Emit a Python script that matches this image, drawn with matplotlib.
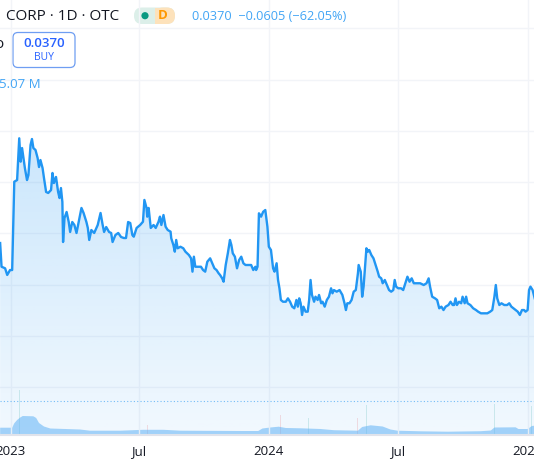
import matplotlib.pyplot as plt
import matplotlib.dates as mdates
import numpy as np
import pandas as pd
from matplotlib.patches import FancyBboxPatch, Circle

# price line, days counted from 2023-01-01
day_offsets = [-15, -13, -8, -5, -1, 2, 5, 9, 12, 14, 16, 18, 20, 23, 25, 28, 30, 32, 35, 38,
               40, 42, 45, 47, 50, 53, 57, 59, 61, 64, 67, 69, 71, 73, 74, 76, 79, 82, 84, 87,
               90, 93, 96, 100, 103, 107, 109, 111, 114, 118, 123, 127, 130, 132, 135, 139, 142, 144, 148, 152,
               156, 160, 163, 166, 169, 172, 174, 178, 183, 187, 189, 192, 193, 195, 198, 202, 205, 209, 211, 213,
               216, 219, 222, 226, 227, 230, 232, 234, 236, 240, 244, 247, 252, 255, 257, 259, 261, 265, 269, 272,
               275, 278, 282, 285, 288, 291, 294, 296, 299, 301, 304, 307, 310, 312, 314, 317, 320, 323, 326, 329,
               332, 336, 340, 343, 346, 347, 349, 351, 354, 357, 360, 363, 365, 368, 371, 373, 376, 378, 380, 382,
               385, 389, 392, 395, 398, 401, 404, 406, 408, 410, 412, 414, 417, 420, 422, 424, 426, 429, 431, 434,
               436, 439, 441, 444, 447, 450, 453, 455, 457, 461, 465, 469, 472, 474, 476, 479, 482, 485, 488, 491,
               492, 495, 497, 499, 501, 503, 505, 507, 510, 513, 516, 519, 521, 524, 526, 529, 532, 535, 538, 541,
               543, 545, 548, 552, 555, 558, 561, 564, 567, 570, 574, 579, 584, 588, 591, 593, 596, 600, 603, 606,
               609, 612, 615, 619, 622, 625, 627, 629, 631, 634, 637, 639, 642, 644, 646, 650, 654, 658, 661, 665,
               669, 674, 678, 681, 684, 686, 688, 691, 694, 698, 702, 705, 708, 711, 714, 717, 720, 723, 726, 728,
               731, 733, 735, 738, 741]
prices = [0.1906, 0.1675, 0.1660, 0.1595, 0.1643, 0.1643, 0.2504, 0.2520, 0.2927, 0.2699,
          0.2832, 0.2735, 0.2637, 0.2520, 0.2569, 0.2862, 0.2920, 0.2832, 0.2813, 0.2735,
          0.2647, 0.2715, 0.2637, 0.2540, 0.2404, 0.2394, 0.2423, 0.2589, 0.2491, 0.2550,
          0.2404, 0.2345, 0.2442, 0.2306, 0.1916, 0.2150, 0.2209, 0.2111, 0.2014, 0.2111,
          0.2082, 0.2004, 0.2111, 0.2248, 0.2199, 0.2111, 0.2053, 0.1936, 0.2033, 0.2004,
          0.2082, 0.2199, 0.2082, 0.2014, 0.2062, 0.2014, 0.2004, 0.1916, 0.1984, 0.2004,
          0.1965, 0.1955, 0.1955, 0.2111, 0.2101, 0.1984, 0.1968, 0.2053, 0.2082, 0.2114,
          0.2326, 0.2248, 0.2163, 0.2248, 0.2053, 0.2082, 0.2053, 0.2114, 0.2163, 0.2082,
          0.2179, 0.2065, 0.2033, 0.2017, 0.1952, 0.1887, 0.1822, 0.1936, 0.1855, 0.1870,
          0.1855, 0.1822, 0.1789, 0.1757, 0.1627, 0.1773, 0.1675, 0.1675, 0.1675, 0.1643,
          0.1627, 0.1724, 0.1757, 0.1709, 0.1660, 0.1643, 0.1611, 0.1595, 0.1562, 0.1529,
          0.1692, 0.1806, 0.1936, 0.1887, 0.1806, 0.1773, 0.1660, 0.1741, 0.1773, 0.1709,
          0.1692, 0.1692, 0.1692, 0.1643, 0.1675, 0.1643, 0.1675, 0.2196, 0.2163, 0.2211,
          0.2228, 0.2065, 0.1870, 0.1838, 0.1660, 0.1627, 0.1709, 0.1546, 0.1465, 0.1351,
          0.1334, 0.1334, 0.1367, 0.1334, 0.1286, 0.1270, 0.1351, 0.1286, 0.1367, 0.1319,
          0.1205, 0.1286, 0.1237, 0.1237, 0.1351, 0.1546, 0.1400, 0.1334, 0.1383, 0.1351,
          0.1400, 0.1319, 0.1334, 0.1286, 0.1351, 0.1383, 0.1465, 0.1416, 0.1448, 0.1432,
          0.1448, 0.1400, 0.1319, 0.1253, 0.1319, 0.1319, 0.1351, 0.1432, 0.1448, 0.1611,
          0.1692, 0.1627, 0.1383, 0.1481, 0.1675, 0.1855, 0.1822, 0.1838, 0.1789, 0.1757,
          0.1692, 0.1627, 0.1578, 0.1562, 0.1514, 0.1546, 0.1497, 0.1448, 0.1432, 0.1448,
          0.1546, 0.1481, 0.1465, 0.1465, 0.1448, 0.1514, 0.1578, 0.1529, 0.1562, 0.1514,
          0.1514, 0.1514, 0.1497, 0.1514, 0.1562, 0.1481, 0.1383, 0.1367, 0.1351, 0.1270,
          0.1286, 0.1253, 0.1286, 0.1302, 0.1334, 0.1302, 0.1302, 0.1367, 0.1302, 0.1334,
          0.1319, 0.1383, 0.1319, 0.1383, 0.1319, 0.1302, 0.1270, 0.1253, 0.1237, 0.1221,
          0.1221, 0.1221, 0.1237, 0.1253, 0.1383, 0.1497, 0.1367, 0.1302, 0.1319, 0.1302,
          0.1302, 0.1319, 0.1286, 0.1270, 0.1253, 0.1237, 0.1205, 0.1253, 0.1253, 0.1237,
          0.1253, 0.1448, 0.1481, 0.1448, 0.1367]

# smoothed volume (millions)
vol_days = [-15, 2, 5, 9, 13, 17, 32, 36, 40, 47, 56, 77, 98, 112, 155, 187, 216, 240, 325, 350,
            356, 367, 379, 389, 410, 438, 457, 491, 497, 509, 526, 537, 547, 580, 618, 665, 679, 684, 714, 718,
            731, 737, 741]
vol_ma = [3.3, 3.3, 5.5, 7.15, 8.3, 9.15, 9.0, 8.15, 5.65, 3.9, 2.9, 2.65, 2.4, 1.8, 1.8, 2.25, 2.25, 1.8, 1.65, 1.65,
          2.9, 3.4, 3.8, 3.15, 3.0, 2.65, 2.05, 1.8, 3.65, 4.5, 3.9, 2.4, 1.8, 1.5, 1.3, 1.55, 1.9, 3.4, 3.5, 2.65,
          2.65, 4.15, 4.3]

# visible daily volume spikes (millions)
spike_days = [3, 12, 193, 354, 381, 421, 490, 503, 684, 736]
spike_vol = [26, 22, 4.6, 9.3, 9.65, 8.15, 8.15, 14.65, 15, 14.3]
spike_up = [False, True, False, True, False, True, False, True, True, True]

last_price = 0.0370
price_grid = [0.05, 0.10, 0.15, 0.20, 0.25, 0.30, 0.35, 0.40]
tick_dates = ['2023-01-01', '2023-07-01', '2024-01-01', '2024-07-01', '2025-01-01']
tick_labels = ['2023', 'Jul', '2024', 'Jul', '2025']

FONT = 'Open Sans'
W, H = 534, 462
BLUE = '#2196f3'

base = pd.Timestamp('2023-01-01')
dates = base + pd.to_timedelta(day_offsets, unit='D')
vdates = base + pd.to_timedelta(vol_days, unit='D')
sdates = base + pd.to_timedelta(spike_days, unit='D')

fig = plt.figure(figsize=(W / 100, H / 100), dpi=100)
ax = fig.add_axes([0, 27 / H, 1, 435 / H])
ax.set_zorder(2)
ax.patch.set_visible(False)
axv = ax.twinx()
axv.set_zorder(1)

x0 = base - pd.Timedelta(days=15.2)
x1 = base + pd.Timedelta(days=740)

# grid
for g in price_grid:
    ax.axhline(g, color='#f2f4f8', lw=1, zorder=0)
for t in tick_dates:
    ax.axvline(pd.Timestamp(t), color='#f2f4f8', lw=1, zorder=0)

# gradient area under the price
poly = ax.fill_between(dates, prices, 0, color='none', lw=0)
grad = np.linspace(0.06, 0.24, 256).reshape(-1, 1)
rgba = np.zeros((256, 1, 4))
rgba[..., 0], rgba[..., 1], rgba[..., 2] = 33 / 255, 150 / 255, 243 / 255
rgba[..., 3] = grad
im = ax.imshow(rgba, extent=[mdates.date2num(x0), mdates.date2num(x1), 0, 0.30],
               origin='lower', aspect='auto', zorder=1)
im.set_clip_path(poly.get_paths()[0], transform=ax.transData)
ax.set_xlim(x0, x1)
ax.set_ylim(0.0035, 0.4275)
axv.set_ylim(-0.35, 217.15)

ax.plot(dates, prices, color=BLUE, lw=1.7, solid_joinstyle='round', zorder=3)
ax.axhline(last_price, color=BLUE, lw=0.8, ls=(0, (1, 2)), alpha=0.6, zorder=2)

# volume
axv.bar(sdates, spike_vol, width=1.0,
        color=['#26a69a' if u else '#ef5350' for u in spike_up], alpha=0.18, lw=0)
axv.fill_between(vdates, vol_ma, 0, color='#64b5f6', alpha=0.55, lw=0)
axv.set_yticks([])

ax.set_xticks([pd.Timestamp(t) for t in tick_dates])
ax.set_xticklabels(tick_labels, fontsize=9.5, color='#131722', family=FONT)
ax.tick_params(axis='x', length=0, pad=7)
ax.set_yticks([])
for a in (ax, axv):
    for s in ('top', 'left', 'right', 'bottom'):
        a.spines[s].set_visible(False)
ax.spines['bottom'].set_visible(True)
ax.spines['bottom'].set_color('#e0e3eb')
ax.spines['bottom'].set_linewidth(1.5)


def fy(y):
    return 1 - y / H


# header
fig.text(6 / W, fy(16), 'CORP · 1D · OTC', fontsize=11, color='#131722', family=FONT, va='center')
fig.patches.append(FancyBboxPatch((134, H - 24), 41, 16.5, boxstyle='round,pad=0,rounding_size=8',
                                  transform=None, fc='#dcefe9', ec='none'))
fig.patches.append(FancyBboxPatch((155, H - 24), 20, 16.5, boxstyle='round,pad=0,rounding_size=8',
                                  transform=None, fc='#fde2bb', ec='none'))
fig.patches.append(FancyBboxPatch((155, H - 24), 8, 16.5, boxstyle='square,pad=0',
                                  transform=None, fc='#fde2bb', ec='none'))
fig.patches.append(Circle((145, H - 15.7), 3.6, transform=None, fc='#089981', ec='none'))
fig.text(163 / W, fy(15.7), 'D', fontsize=9.5, color='#ff9800', family=FONT, va='center',
         ha='center', weight='bold')
fig.text(192 / W, fy(16), '0.0370  \u22120.0605 (\u221262.05%)', fontsize=9.2, color='#42a5f5',
         family=FONT, va='center')

# buy box
fig.text(3 / W, fy(45), 'o', fontsize=11, color='#131722', family=FONT, va='center', ha='right')
fig.patches.append(FancyBboxPatch((13, H - 67.5), 62, 35, boxstyle='round,pad=0,rounding_size=5',
                                  transform=None, fc='white', ec='#6f9ef2', lw=0.9))
fig.text(44 / W, fy(43.5), '0.0370', fontsize=9.5, color='#2962ff', family=FONT, va='center',
         ha='center', weight='semibold')
fig.text(44 / W, fy(58), 'BUY', fontsize=7.5, color='#2962ff', family=FONT, va='center', ha='center')

fig.text(-1 / W, fy(84), '5.07 M', fontsize=9.5, color='#42a5f5', family=FONT, va='center')

fig.savefig('out.png', dpi=100)
